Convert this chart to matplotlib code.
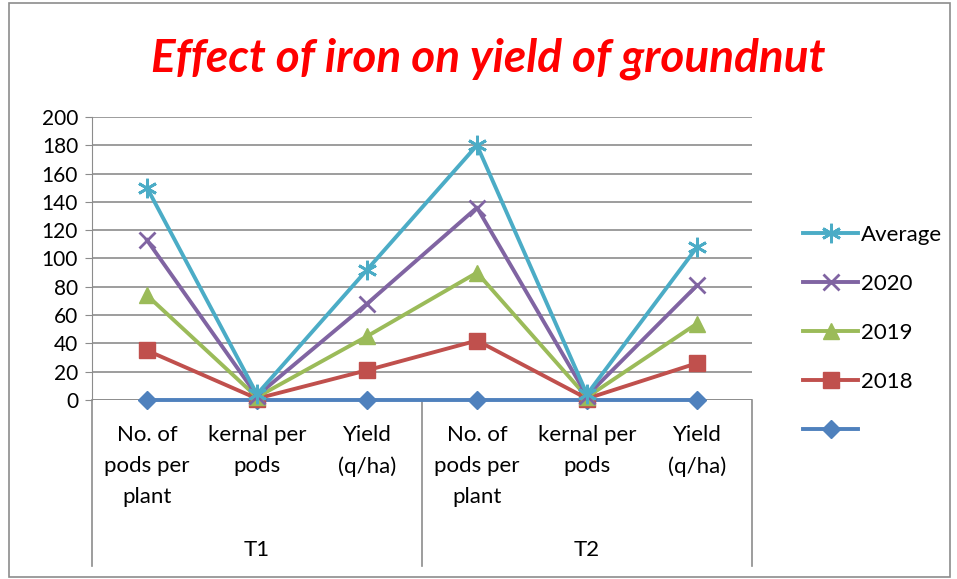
import matplotlib.pyplot as plt
from matplotlib.patches import Rectangle

# data as plotted (stacked line chart)
categories = ['No. of\npods per\nplant', 'kernal per\npods', 'Yield\n(q/ha)',
              'No. of\npods per\nplant', 'kernal per\npods', 'Yield\n(q/ha)']
groups = ['T1', 'T2']
base = [0, 0, 0, 0, 0, 0]
y2018 = [35, 1, 21, 42, 1, 26]
y2019 = [74, 2, 45, 90, 2, 54]
y2020 = [113, 3, 68, 136, 3, 81]
average = [150, 4, 92, 180, 4, 108]

plt.rcParams['font.family'] = ['Lato', 'DejaVu Sans']

fig = plt.figure(figsize=(9.57, 5.79), dpi=100)
ax = fig.add_axes([0.0961, 0.3092, 0.6897, 0.4887])

x = list(range(len(categories)))
lw = 2.8
ax.plot(x, base, color='#4F81BD', lw=lw, marker='D', ms=9, label=' ', zorder=3,
        clip_on=False)
ax.plot(x, y2018, color='#C0504D', lw=lw, marker='s', ms=11, label='2018', zorder=4,
        clip_on=False)
ax.plot(x, y2019, color='#9BBB59', lw=lw, marker='^', ms=12, label='2019', zorder=5,
        clip_on=False)
ax.plot(x, y2020, color='#8064A2', lw=lw, marker='x', ms=11, mew=2, label='2020',
        zorder=6, clip_on=False)
ax.plot(x, average, color='#4BACC6', lw=lw, marker=(6, 2, 0), ms=14, mew=2,
        label='Average', zorder=7, clip_on=False)

ax.set_xlim(-0.5, 5.5)
ax.set_ylim(0, 200)
ax.set_yticks(range(0, 201, 20))
ax.yaxis.grid(True, color='#8c8c8c', lw=1.2)
ax.set_axisbelow(True)
for s in ['top', 'right', 'bottom']:
    ax.spines[s].set_visible(False)
ax.spines['left'].set_color('#8c8c8c')
ax.tick_params(axis='y', labelsize=15, colors='#8c8c8c', labelcolor='black',
               length=5, pad=5)
ax.set_xticks([])

# category and group labels under the axis
for i, c in enumerate(categories):
    ax.text(i, -18, c, ha='center', va='top', fontsize=16, linespacing=1.68,
            clip_on=False)
for g, gx in zip(groups, [1, 4]):
    ax.text(gx, -106, g, ha='center', va='center', fontsize=16, clip_on=False)
for sx in [-0.5, 2.5, 5.5]:
    ax.plot([sx, sx], [0, -117], color='#8c8c8c', lw=1.2, clip_on=False)
ax.plot([-0.5, 5.5], [0, 0], color='#8c8c8c', lw=1.2, zorder=1)

fig.text(0.51, 0.898, 'Effect of iron on yield of groundnut', color='red',
         fontsize=33, fontweight='bold', style='italic', ha='center', va='center')

h, l = ax.get_legend_handles_labels()
fig.legend(h[::-1], l[::-1], loc='center left', bbox_to_anchor=(0.818, 0.425),
           frameon=False, fontsize=16, handlelength=2.5, handletextpad=0.1,
           labelspacing=1.3)

# outer chart border
fig.patches.append(Rectangle((0.009, 0.004), 0.984, 0.99, transform=fig.transFigure,
                             fill=False, ec='#8c8c8c', lw=1.2))

plt.savefig('out.png', dpi=100)
